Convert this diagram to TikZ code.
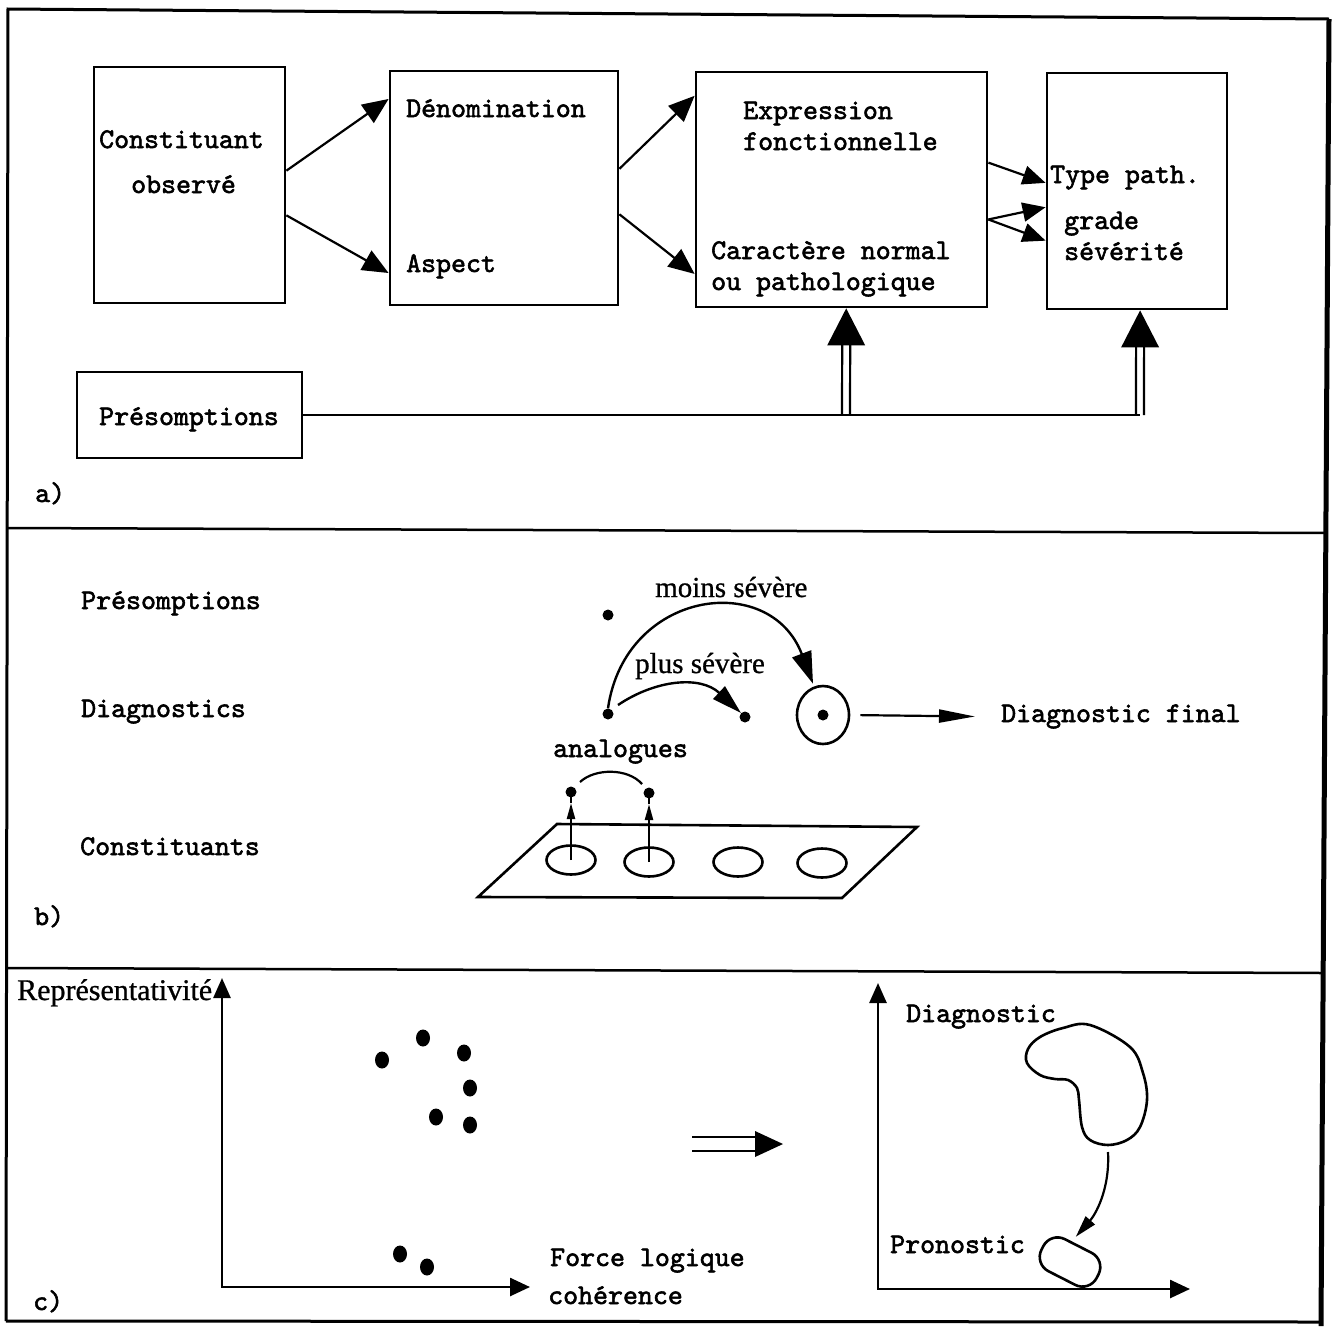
\documentclass[tikz,border=0pt]{standalone}
\usepackage{fontspec}
\setmainfont{Liberation Serif}
\newfontfamily\twf{lmmono10-regular.otf}[FakeBold=2]
\usetikzlibrary{arrows.meta,calc,shapes.geometric}
\begin{document}
\begin{tikzpicture}[x=1pt,y=-1pt,
  box/.style={draw,line width=2.8pt,inner sep=0pt},
  tw/.style={font=\twf\fontsize{28.5}{33}\selectfont,anchor=base west,inner sep=0pt},
  sf/.style={font=\fontsize{29}{33}\selectfont\addfontfeature{FakeBold=0.8},anchor=base west,inner sep=0pt},
  arr/.style={line width=2.2pt,-{Triangle[length=26pt,width=22pt]}},
  arrs/.style={line width=2.2pt,-{Triangle[length=23pt,width=19pt]}},
  dot/.style={circle,fill,inner sep=0pt,minimum size=11pt},
  cdot/.style={ellipse,fill,inner sep=0pt,minimum width=14pt,minimum height=17pt},
  hole/.style={ellipse,draw,line width=2.6pt,inner sep=0pt,minimum width=49pt,minimum height=29pt},
  ln/.style={line width=2.6pt},
  dshaft/.style={line width=2.2pt},
]
\useasboundingbox (0,0) rectangle (1339,1326);

% ---------- frame ----------
\draw[line width=3pt] (6,1321) -- (8,9) -- (1329,19);
\draw[line width=3pt] (6,1321) -- (1322,1322);
\draw[line width=5pt] (1329,19) -- (1321,1326);
\draw[line width=2.5pt] (8,528) -- (1327,533);
\draw[line width=2.5pt] (6,968) -- (1323,973);

% ---------- section a ----------
\node[box,minimum width=191pt,minimum height=236pt] (b1) at (189.5,185) {};
\node[box,minimum width=228pt,minimum height=234pt] (b2) at (504,188) {};
\node[box,minimum width=291pt,minimum height=235pt] (b3) at (841.5,189.5) {};
\node[box,minimum width=180pt,minimum height=236pt] (b4) at (1137,191) {};
\node[box,minimum width=225pt,minimum height=86pt] (pres) at (189.5,415) {};

\node[tw] (tConst) at (99,148) {Constituant};
\node[tw] (tObs) at (131,193) {observé};
\node[tw] (tDen) at (406,117) {Dénomination};
\node[tw] (tAsp) at (406,272) {Aspect};
\node[tw] (tExp) at (743,119) {Expression};
\node[tw] (tFon) at (743,150) {fonctionnelle};
\node[tw] (tCar) at (711,259) {Caractère normal};
\node[tw] (tOu) at (711,290) {ou pathologique};
\node[tw] (tTyp) at (1050,183) {Type path.};
\node[tw] (tGra) at (1064,229) {grade};
\node[tw] (tSev) at (1064,260) {sévérité};
\node[tw] (tPres) at (99,425) {Présomptions};
\node[tw] (ta) at (35,502) {a)};

\draw[arr] ($(b1.north east)!0.44!(b1.south east)$) -- ($(b2.north west)!0.124!(b2.south west)$);
\draw[arr] ($(b1.north east)!0.627!(b1.south east)$) -- ($(b2.north west)!0.859!(b2.south west)$);
\draw[arr] ($(b2.north east)!0.419!(b2.south east)$) -- ($(b3.north west)!0.106!(b3.south west)$);
\draw[arr] ($(b2.north east)!0.611!(b2.south east)$) -- ($(b3.north west)!0.855!(b3.south west)$);
\draw[arrs] ($(b3.north east)!0.387!(b3.south east)$) -- ($(b4.north west)!0.466!(b4.south west)$);
\draw[arrs] ($(b3.north east)!0.626!(b3.south east)$) -- ($(b4.north west)!0.568!(b4.south west)$);
\draw[arrs] ($(b3.north east)!0.626!(b3.south east)$) -- ($(b4.north west)!0.708!(b4.south west)$);

\coordinate (j1) at (846,415);
\coordinate (j2) at (1140,415);
\coordinate (t1) at ($(b3.south west)!0.516!(b3.south east)$);
\coordinate (t2) at ($(b4.south west)!0.517!(b4.south east)$);
\draw[ln] (pres.east) -- (j2);
\draw[dshaft] ($(j1)+(-4,0)$) -- ($(t1)+(-4,34)$) ($(j1)+(4,0)$) -- ($(t1)+(4,34)$);
\draw[dshaft] ($(j2)+(-4,0)$) -- ($(t2)+(-4,34)$) ($(j2)+(4,0)$) -- ($(t2)+(4,34)$);
\fill (t1) -- ($(t1)+(-19,37)$) -- ($(t1)+(19,37)$) -- cycle;
\fill (t2) -- ($(t2)+(-19,37)$) -- ($(t2)+(19,37)$) -- cycle;

% ---------- section b ----------
\node[tw] (lPres) at (81,609) {Présomptions};
\node[tw] (lDiag) at (81,717) {Diagnostics};
\node[tw] (lCons) at (80,855) {Constituants};
\node[tw] (tb) at (34,925) {b)};

\node[dot] (p1) at (608,615) {};
\node[dot] (d1) at (608,714) {};
\node[dot] (d2) at (745,717) {};
\node[draw,ellipse,line width=2.6pt,minimum width=52pt,minimum height=58pt,inner sep=0pt] (fin) at (823,715) {};
\node[dot] (finc) at (823,715) {};
\node[tw] (tFin) at (1001,722) {Diagnostic final};
\draw[line width=2.2pt,shorten <=10pt,-{Triangle[length=36pt,width=13pt]}] (fin.east) -- ([xshift=-26pt]tFin.west);

\draw[line width=2.4pt,-{Triangle[length=32pt,width=20pt]}] (d1.north) .. controls (625,590) and (770,570) .. ([xshift=-10pt,yshift=1pt]fin.north);
\draw[line width=2.4pt,-{Triangle[length=30pt,width=17pt]}] ([xshift=10pt,yshift=9pt]d1.center) .. controls (655,680) and (700,675) .. (d2.north west);
\node[sf] (lMoins) at (655,597) {moins sévère};
\node[sf] (lPlus) at (635,673) {plus sévère};
\node[tw] (lAna) at (553,757) {analogues};

\coordinate (pa) at (557,824);
\coordinate (pb) at (917,827);
\coordinate (pc) at (842,898);
\coordinate (pd) at (478,897);
\draw[ln] (pa) -- (pb) -- (pc) -- (pd) -- cycle;
\node[hole] (h1) at (571,860) {};
\node[hole] (h2) at (649,862) {};
\node[hole] (h3) at (738,862) {};
\node[hole] (h4) at (822,863) {};
\node[dot] (a1) at (571,792) {};
\node[dot] (a2) at (649,793) {};
\draw[line width=2.2pt,-{Triangle[length=16pt,width=8pt]}] (h1.center) -- ([yshift=-11pt]a1.center);
\draw[line width=2.2pt] ([yshift=-11pt]a1.center) -- (a1.center);
\draw[line width=2.2pt,-{Triangle[length=16pt,width=8pt]}] (h2.center) -- ([yshift=-11pt]a2.center);
\draw[line width=2.2pt] ([yshift=-11pt]a2.center) -- (a2.center);
\draw[line width=2.2pt] ([xshift=9pt,yshift=10pt]a1.center) .. controls (595,768) and (628,768) .. ([xshift=-7pt,yshift=9pt]a2.center);

% ---------- section c ----------
\node[sf,font=\fontsize{30}{34}\selectfont\addfontfeature{FakeBold=0.8}] (lRep) at (17,1000) {Représentativité};
\coordinate (o1) at (222,1287);
\coordinate (y1) at (222,978);
\coordinate (x1) at (530,1287);
\draw[ln,{Triangle[length=20pt,width=17pt]}-{Triangle[length=20pt,width=18pt]}] (y1) -- (o1) -- (x1);
\node[cdot] (c1) at (382,1060) {};
\node[cdot] (c2) at (423,1038) {};
\node[cdot] (c3) at (464,1053) {};
\node[cdot] (c4) at (470,1088) {};
\node[cdot] (c5) at (436,1117) {};
\node[cdot] (c6) at (470,1125) {};
\node[cdot] (c7) at (400,1254) {};
\node[cdot] (c8) at (427,1267) {};
\node[tw] (lFor) at (550,1266) {Force logique};
\node[tw] (lCoh) at (548,1304) {cohérence};
\node[tw] (tc) at (33,1310) {c)};

\coordinate (da1) at (692,1144);
\coordinate (da2) at (783,1144);
\draw[dshaft] ($(da1)+(0,-7)$) -- ($(da2)+(-26,-7)$) ($(da1)+(0,7)$) -- ($(da2)+(-26,7)$);
\fill (da2) -- ($(da2)+(-28,-13)$) -- ($(da2)+(-28,13)$) -- cycle;

\coordinate (o2) at (878,1289);
\coordinate (y2) at (878,983);
\coordinate (x2) at (1190,1289);
\draw[ln,{Triangle[length=20pt,width=17pt]}-{Triangle[length=20pt,width=18pt]}] (y2) -- (o2) -- (x2);
\node[tw] (lDia) at (906,1022) {Diagnostic};
\node[tw] (lPro) at (890,1253) {Pronostic};

\draw[ln] plot[smooth cycle,tension=0.6] coordinates {(1090,1025) (1130,1047) (1143,1073) (1147,1100) (1140,1127) (1127,1140) (1108,1145) (1090,1140) (1082,1127) (1079,1100) (1077,1088) (1068,1080) (1055,1079) (1040,1075) (1027,1063) (1028,1049) (1040,1037) (1063,1028)};
\coordinate (kid) at (1108,1152);
\node[draw,line width=2.6pt,rounded corners=16pt,minimum width=62pt,minimum height=36pt,rotate=-27,inner sep=0pt] (blob) at (1070,1262) {};
\draw[line width=2.2pt,-{Triangle[length=22pt,width=12pt]}] (kid) .. controls (1110,1190) and (1095,1215) .. ([xshift=-3pt,yshift=8pt]blob.north);
\end{tikzpicture}
\end{document}
